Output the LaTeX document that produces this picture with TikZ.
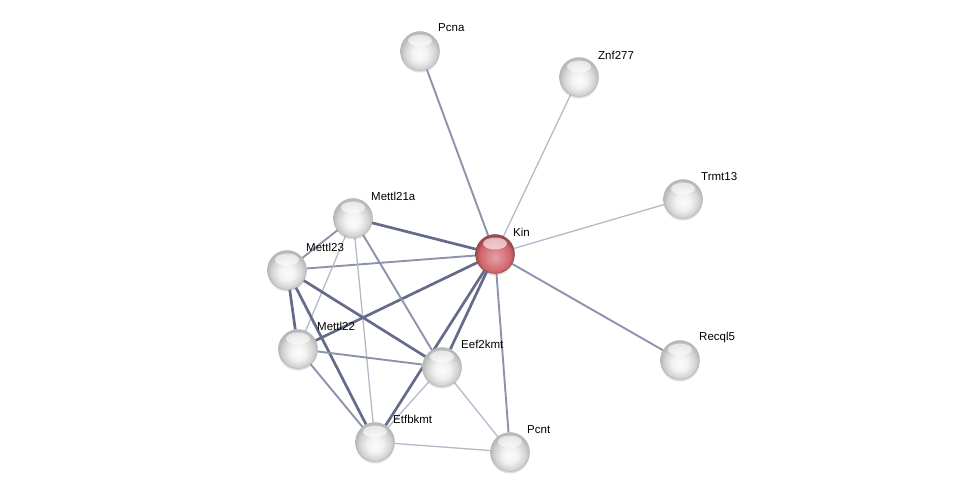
\documentclass[tikz,border=0pt]{standalone}
\usepackage{fontspec}
\setmainfont{Liberation Sans}
\usetikzlibrary{positioning, shadows}
\pgfdeclarelayer{background}
\pgfsetlayers{background,main}
\definecolor{edgelight}{HTML}{B4B9CA}
\definecolor{edgemid}{HTML}{8C93AC}
\definecolor{edgedark}{HTML}{656C8A}
\definecolor{kinred}{HTML}{D0646A}
\pgfdeclareradialshading{greysphere}{\pgfpoint{0bp}{-5bp}}{%
  color(0bp)=(white!97!gray); color(10bp)=(white!90!gray);
  color(20bp)=(gray!35); color(25bp)=(gray!55); color(50bp)=(gray!55)}
\pgfdeclareradialshading{redsphere}{\pgfpoint{0bp}{-5bp}}{%
  color(0bp)=(kinred!60!white); color(10bp)=(kinred!80!white);
  color(20bp)=(kinred); color(25bp)=(kinred!75!black); color(50bp)=(kinred!75!black)}

\begin{document}
\begin{tikzpicture}[
  x=1pt, y=-1pt,
  prot/.style={circle, minimum size=39pt, inner sep=0pt, draw=gray!60, line width=0.4pt,
               shading=greysphere,
               drop shadow={opacity=0.25, shadow xshift=0pt, shadow yshift=-2pt},
               path picture={\fill[white, opacity=0.6]
                 ([yshift=-9pt]path picture bounding box.north) ellipse (12pt and 6pt);}},
  query/.style={prot, draw=kinred!60!black, shading=redsphere},
  lbl/.style={anchor=west, inner sep=0pt, font=\fontsize{11.5}{13}\selectfont},
  thin/.style={edgelight, line width=1.3pt},
  mid/.style={edgemid, line width=1.9pt},
  thick/.style={edgedark, line width=2.7pt}
]
  \useasboundingbox (0,0) rectangle (975,497);

  % proteins
  \node[query] (kin) at (495,254) {};
  \node[prot] (pcna) at (420,51) {};
  \node[prot] (znf) at (579,77) {};
  \node[prot] (trmt) at (683,199) {};
  \node[prot] (recql) at (680,360) {};
  \node[prot] (m21a) at (353,218) {};
  \node[prot] (m23) at (287,270) {};
  \node[prot] (m22) at (298,349) {};
  \node[prot] (eef) at (442,367) {};
  \node[prot] (etf) at (375,442) {};
  \node[prot] (pcnt) at (510,452) {};

  % labels
  \node[lbl] (kin-l) at (513,232) {Kin};
  \node[lbl] (pcna-l) at (438,28) {Pcna};
  \node[lbl] (znf-l) at (598,55) {Znf277};
  \node[lbl] (trmt-l) at (701,177) {Trmt13};
  \node[lbl] (recql-l) at (699,338) {Recql5};
  \node[lbl] (m21a-l) at (371,196) {Mettl21a};
  \node[lbl] (m23-l) at (306,247) {Mettl23};
  \node[lbl] (m22-l) at (317,326) {Mettl22};
  \node[lbl] (eef-l) at (461,344) {Eef2kmt};
  \node[lbl] (etf-l) at (393,419) {Etfbkmt};
  \node[lbl] (pcnt-l) at (527,430) {Pcnt};

  % interactions
  \begin{pgfonlayer}{background}
    \draw[mid] (kin) -- (pcna);
    \draw[thin] (kin) -- (znf);
    \draw[thin] (kin) -- (trmt);
    \draw[mid] (kin) -- (recql);
    \draw[mid] (kin) -- (pcnt);
    \draw[thick] (kin) -- (m22);
    \draw[thick] (kin) -- (eef);
    \draw[thick] (kin) -- (etf);
    \draw[mid] (kin) -- (m23);
    \draw[thick] (kin) -- (m21a);
    \draw[mid] (m21a) -- (m23);
    \draw[thin] (m21a) -- (m22);
    \draw[mid] (m21a) -- (eef);
    \draw[thin] (m21a) -- (etf);
    \draw[thick] (m23) -- (m22);
    \draw[thick] (m23) -- (etf);
    \draw[thick] (m23) -- (eef);
    \draw[mid] (m22) -- (eef);
    \draw[mid] (m22) -- (etf);
    \draw[thin] (eef) -- (etf);
    \draw[thin] (eef) -- (pcnt);
    \draw[thin] (etf) -- (pcnt);
  \end{pgfonlayer}
\end{tikzpicture}
\end{document}
